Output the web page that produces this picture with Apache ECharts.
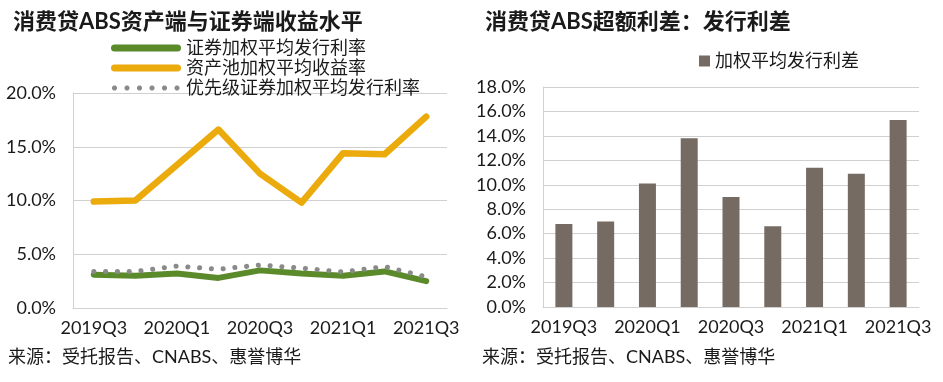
<!DOCTYPE html>
<html>
<head>
<meta charset="utf-8">
<script src="https://cdn.jsdelivr.net/npm/echarts@6/dist/echarts.min.js"></script>
<style>
html,body{margin:0;padding:0;background:#fff;}
#c{width:943px;height:382px;}
</style>
</head>
<body>
<div id="c"></div>
<script>
var categories = ['2019Q3','2019Q4','2020Q1','2020Q2','2020Q3','2020Q4','2021Q1','2021Q2','2021Q3'];
var issueRate = [3.1, 3.0, 3.2, 2.8, 3.5, 3.2, 3.0, 3.4, 2.5];
var poolYield = [9.9, 10.0, 13.3, 16.6, 12.5, 9.8, 14.4, 14.3, 17.8];
var seniorRate = [3.4, 3.4, 3.9, 3.6, 4.0, 3.7, 3.35, 3.85, 2.9];
var spread = [6.8, 7.0, 10.1, 13.8, 9.0, 6.6, 11.4, 10.9, 15.3];
var leftTitle = '消费贷ABS资产端与证券端收益水平';
var rightTitle = '消费贷ABS超额利差：发行利差';
var sourceText = '来源：受托报告、CNABS、惠誉博华';
var names = ['证券加权平均发行利率', '资产池加权平均收益率', '优先级证券加权平均发行利率', '加权平均发行利差'];

var FONT = 'Lato, "Noto Sans CJK SC", sans-serif';
var GREEN = '#5b8a2b', YELLOW = '#ebab0c', GRAY = '#8a8a8a', BAR = '#766b63';
var GRID = '#d0d0d0';
var pct = function (v) { return v.toFixed(1) + '%'; };

var lineIcon = 'path://M3.5,0 L66.5,0 A3.5,3.5 0 0 1 66.5,7 L3.5,7 A3.5,3.5 0 0 1 3.5,0 Z';
// six dots (octagons) across a 70x7 box
var dots = 'path://M0,0 L0.01,0 L0.01,0.01 Z M70,7 L69.99,7 L69.99,6.99 Z';
for (var i = 0; i < 6; i++) {
  var cx = 3.5 + i * 12.5, cy = 3.5, r = 2.7;
  var pts = [];
  for (var k = 0; k < 8; k++) {
    var a = (k + 0.5) * Math.PI / 4;
    pts.push((cx + r * Math.cos(a)).toFixed(2) + ',' + (cy + r * Math.sin(a)).toFixed(2));
  }
  dots += ' M' + pts.join(' L') + ' Z';
}

var chart = echarts.init(document.getElementById('c'), null, {renderer: 'canvas'});
var axisLabel = {color: '#1a1a1a', fontSize: 18, fontFamily: FONT};
chart.setOption({
  animation: false,
  textStyle: {fontFamily: FONT},
  title: [
    {text: leftTitle, left: 8, top: 6, textStyle: {fontSize: 22, fontWeight: 'bold', color: '#1a1a1a', fontFamily: FONT}},
    {text: rightTitle, left: 480, top: 6, textStyle: {fontSize: 22, fontWeight: 'bold', color: '#1a1a1a', fontFamily: FONT}}
  ],
  legend: [
    {
      orient: 'vertical', left: 106, top: 34, itemWidth: 70, itemHeight: 7, itemGap: 2,
      symbolKeepAspect: false,
      textStyle: {fontSize: 18, color: '#1a1a1a', fontFamily: FONT},
      data: [
        {name: names[0], icon: lineIcon},
        {name: names[1], icon: lineIcon},
        {name: names[2], icon: dots}
      ]
    },
    {
      left: 694, top: 47, itemWidth: 11, itemHeight: 11, icon: 'rect',
      textStyle: {fontSize: 18, color: '#1a1a1a', fontFamily: FONT},
      data: [names[3]]
    }
  ],
  grid: [
    {left: 73, top: 93, width: 374, height: 215},
    {left: 543, top: 87, width: 376, height: 220}
  ],
  xAxis: [
    {gridIndex: 0, type: 'category', data: categories, boundaryGap: true,
     axisLine: {lineStyle: {color: GRID}}, axisTick: {show: false},
     axisLabel: Object.assign({interval: 1, margin: 11}, axisLabel)},
    {gridIndex: 1, type: 'category', data: categories, boundaryGap: true,
     axisLine: {lineStyle: {color: GRID}}, axisTick: {show: false},
     axisLabel: Object.assign({interval: 1, margin: 11}, axisLabel)}
  ],
  yAxis: [
    {gridIndex: 0, type: 'value', min: 0, max: 20, interval: 5,
     axisLine: {show: true, lineStyle: {color: GRID}}, axisTick: {show: false},
     splitLine: {lineStyle: {color: GRID}},
     axisLabel: Object.assign({formatter: pct, margin: 17}, axisLabel)},
    {gridIndex: 1, type: 'value', min: 0, max: 18, interval: 2,
     axisLine: {show: true, lineStyle: {color: GRID}}, axisTick: {show: false},
     splitLine: {lineStyle: {color: GRID}},
     axisLabel: Object.assign({formatter: pct, margin: 17}, axisLabel)}
  ],
  series: [
    {name: names[0], type: 'line', xAxisIndex: 0, yAxisIndex: 0, data: issueRate,
     symbol: 'none', color: GREEN, lineStyle: {color: GREEN, width: 6, cap: 'round', join: 'round'}},
    {name: names[1], type: 'line', xAxisIndex: 0, yAxisIndex: 0, data: poolYield,
     symbol: 'none', color: YELLOW, lineStyle: {color: YELLOW, width: 6.5, cap: 'round', join: 'round'}},
    {name: names[2], type: 'line', xAxisIndex: 0, yAxisIndex: 0, data: seniorRate,
     symbol: 'none', color: GRAY, lineStyle: {color: GRAY, width: 5, type: [0.1, 11.7], cap: 'round', join: 'round'}},
    {name: names[3], type: 'bar', xAxisIndex: 1, yAxisIndex: 1, data: spread,
     barWidth: 17, color: BAR, itemStyle: {color: BAR}}
  ],
  graphic: [
    {type: 'text', left: 8, top: 348, style: {text: sourceText, fontSize: 18, fill: '#1a1a1a', fontFamily: FONT}},
    {type: 'text', left: 482, top: 348, style: {text: sourceText, fontSize: 18, fill: '#1a1a1a', fontFamily: FONT}}
  ]
});
</script>
</body>
</html>
